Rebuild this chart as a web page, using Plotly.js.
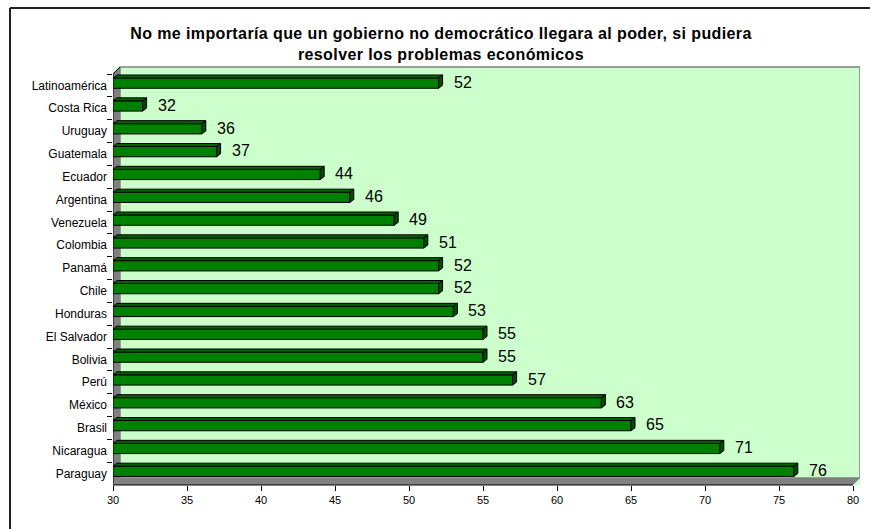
<!DOCTYPE html>
<html>
<head>
<meta charset="utf-8">
<script src="https://cdn.plot.ly/plotly-3.0.1.min.js"></script>
<style>html,body{margin:0;padding:0;background:#fff;overflow:hidden;}</style>
</head>
<body>
<div id="chart" style="width:870px;height:529px;"></div>
<script>
const countries = ["Latinoamérica","Costa Rica","Uruguay","Guatemala","Ecuador","Argentina","Venezuela","Colombia","Panamá","Chile","Honduras","El Salvador","Bolivia","Perú","México","Brasil","Nicaragua","Paraguay"];
const values = [52,32,36,37,44,46,49,51,52,52,53,55,55,57,63,65,71,76];
const xTicks = [30,35,40,45,50,55,60,65,70,75,80];
const titleLines = ["No me importaría que un gobierno no democrático llegara al poder, si pudiera", "resolver los problemas económicos"];

const FONT = "Liberation Sans, Arial, sans-serif";
const pxPerX = 14.8;
const depthX = 7 / pxPerX;    // wall depth in x data units
const depthY = 7 / 418;       // wall depth in paper units
const barDX = 4 / pxPerX;     // bar depth (x data units)
const barDY = 3;              // bar depth (pixels)
const BW = 0.45, BOFF = -0.325, CAT = 22.83;
const topPx = -BOFF * CAT;            // front face top, px above category centre
const botPx = -(BOFF + BW) * CAT;     // front face bottom (negative = below)

const trace = {
  type: "bar",
  orientation: "h",
  y: countries,
  x: values,
  width: BW,
  offset: BOFF,
  marker: {color: "#008000", line: {color: "#000000", width: 1}},
  hoverinfo: "x+y"
};

const labelAnn = countries.map((c, i) => ({
  x: values[i], y: c, xref: "x", yref: "y",
  text: String(values[i]), showarrow: false,
  xanchor: "left", yanchor: "middle", xshift: 13, yshift: 3,
  font: {family: FONT, size: 16, color: "#000"}
}));

// 3D faces of each bar (top and end faces), derived from the values
const barFaces = [];
values.forEach((v, i) => {
  barFaces.push({type: "path", xref: "x", yref: "y", ysizemode: "pixel", yanchor: i,
    path: `M 30,${topPx} L ${v},${topPx} L ${v + barDX},${topPx + barDY} L ${30 + barDX},${topPx + barDY} Z`,
    fillcolor: "#006400", line: {color: "#000", width: 1}});
  barFaces.push({type: "path", xref: "x", yref: "y", ysizemode: "pixel", yanchor: i,
    path: `M ${v},${topPx} L ${v + barDX},${topPx + barDY} L ${v + barDX},${botPx + barDY} L ${v},${botPx} Z`,
    fillcolor: "#004d00", line: {color: "#000", width: 1}});
});

const bx = (10 - 113) / 747;          // left edge of chart frame (paper)
const by = (485 - 8) / 418;           // top edge of chart frame (paper)
const bxr = (870 - 113) / 747;        // right edge of the picture (paper)

const layout = {
  width: 870, height: 529,
  margin: {l: 113, r: 10, t: 67, b: 44},
  paper_bgcolor: "#ffffff",
  plot_bgcolor: "#CCFFCC",
  showlegend: false,
  bargap: 0,
  title: {
    text: titleLines.map(t => `<span style="letter-spacing:0.4px">${t}</span>`).join("<br>"),
    font: {family: FONT, size: 16, color: "#000", weight: "bold"},
    xref: "container", x: 441 / 870, xanchor: "center",
    yref: "container", y: 1 - 39 / 529, yanchor: "middle"
  },
  xaxis: {
    range: [30, 80 + depthX],
    tickmode: "array", tickvals: xTicks, ticktext: xTicks.map(String),
    ticks: "outside", ticklen: 5, tickcolor: "#000", tickwidth: 1,
    showgrid: false, zeroline: false, showline: false,
    tickfont: {family: FONT, size: 11, color: "#000"},
    fixedrange: true
  },
  yaxis: {
    type: "category",
    categoryorder: "array", categoryarray: countries,
    range: [17.5, -0.5 - 7 / CAT],
    ticks: "outside", tickson: "boundaries", ticklen: 5, tickcolor: "#000", tickwidth: 1,
    ticklabelstandoff: 5,
    showgrid: false, zeroline: false, showline: false,
    tickfont: {family: FONT, size: 12, color: "#000"},
    fixedrange: true
  },
  shapes: [
    // left wall
    {type: "path", xref: "x", yref: "paper", layer: "below",
     path: `M 30,0 L 30,${1 - depthY} L ${30 + depthX},1 L ${30 + depthX},${depthY} Z`,
     fillcolor: "#808080", line: {width: 0}},
    // floor
    {type: "path", xref: "x", yref: "paper", layer: "below",
     path: `M 30,0 L 80,0 L ${80 + depthX},${depthY} L ${30 + depthX},${depthY} Z`,
     fillcolor: "#808080", line: {width: 0}},
    // back wall outline
    {type: "rect", xref: "x", yref: "paper", layer: "below",
     x0: 30 + depthX, x1: 80 + depthX, y0: depthY, y1: 1,
     line: {color: "#808080", width: 1.5}, fillcolor: "rgba(0,0,0,0)"},
    ...barFaces,
    // x axis line
    {type: "line", xref: "x", yref: "paper", x0: 30, x1: 80, y0: 0, y1: 0,
     line: {color: "#000", width: 1}},
    // y axis line
    {type: "path", xref: "x", yref: "paper",
     path: `M 30,0 L 30,${1 - depthY} L ${30 + depthX},1`,
     line: {color: "#000", width: 1}},
    // outer chart frame: left edge
    {type: "line", xref: "paper", yref: "paper", x0: bx, x1: bx, y0: -0.2, y1: by,
     line: {color: "#222", width: 2}},
    // outer chart frame: top edge
    {type: "line", xref: "paper", yref: "paper", x0: bx, x1: bxr, y0: by, y1: by,
     line: {color: "#222", width: 2}}
  ],
  annotations: labelAnn
};

Plotly.newPlot("chart", [trace], layout, {displayModeBar: false, staticPlot: true});
</script>
</body>
</html>
